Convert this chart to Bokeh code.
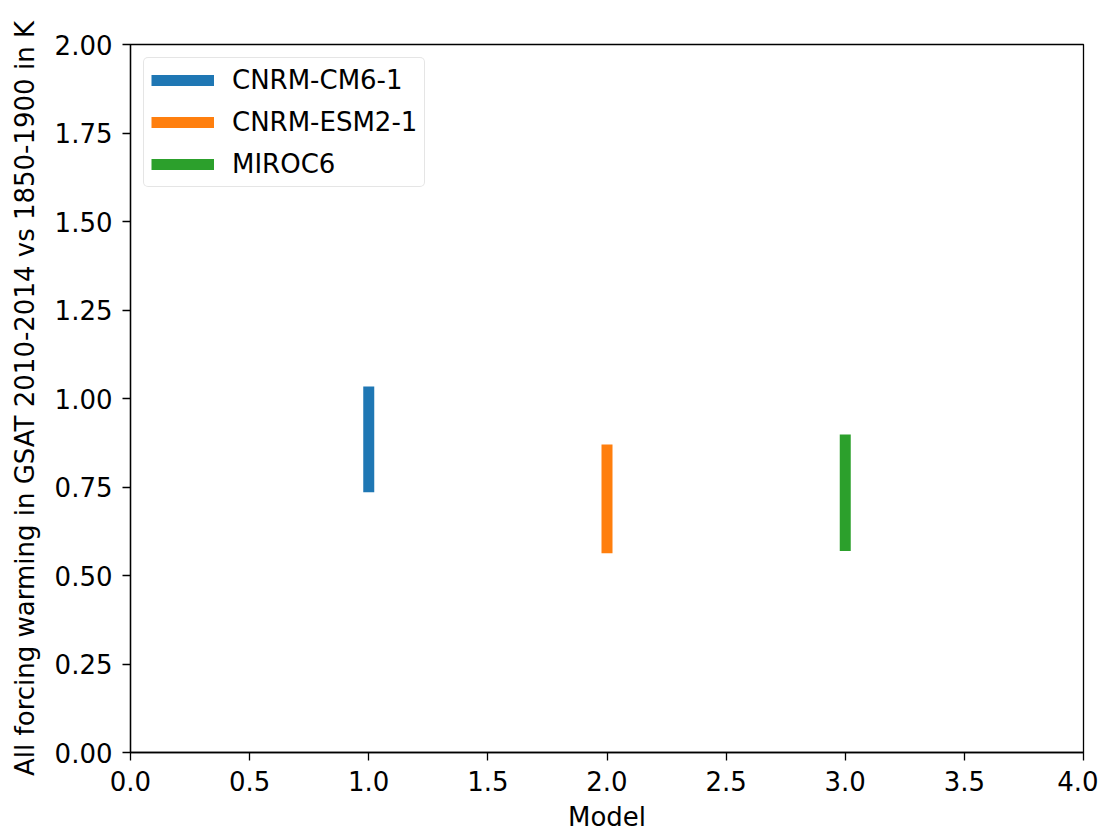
from bokeh.plotting import figure
from bokeh.models import FixedTicker, NumeralTickFormatter, Range1d, Legend, LegendItem
from bokeh.embed import file_html
from bokeh.resources import INLINE

models = ["CNRM-CM6-1", "CNRM-ESM2-1", "MIROC6"]
x_pos = [1, 2, 3]
low = [0.735, 0.563, 0.569]
high = [1.034, 0.870, 0.898]
colors = ["#1f77b4", "#ff7f0e", "#2ca02c"]

x_ticks = [0.0, 0.5, 1.0, 1.5, 2.0, 2.5, 3.0, 3.5, 4.0]
y_ticks = [0.0, 0.25, 0.5, 0.75, 1.0, 1.25, 1.5, 1.75, 2.0]

FONT = "DejaVu Sans"
FS = "26px"

p = figure(frame_width=953, frame_height=708,
           min_border_left=130, min_border_right=15, min_border_top=44, min_border_bottom=80,
           output_backend="svg", toolbar_location=None,
           x_range=Range1d(0, 4), y_range=Range1d(0, 2))

items = []
for m, x, lo, hi, c in zip(models, x_pos, low, high, colors):
    r = p.segment(x0=[x], y0=[lo], x1=[x], y1=[hi], line_color=c, line_width=11, line_cap="butt")
    items.append(LegendItem(label=m, renderers=[r]))

legend = Legend(items=items, location="top_left")
legend.label_text_font = FONT
legend.label_text_font_size = FS
legend.label_text_color = "#000000"
legend.glyph_width = 63
legend.glyph_height = 28
legend.label_height = 28
legend.label_standoff = 18
legend.spacing = 12
legend.padding = 7
legend.margin = 13
legend.border_line_color = "#cccccc"
legend.border_line_width = 1.5
legend.border_radius = 5
legend.background_fill_alpha = 0.8
p.add_layout(legend)

p.xgrid.visible = False
p.ygrid.visible = False
p.outline_line_color = "black"
p.outline_line_width = 1.3
p.background_fill_color = "white"
p.border_fill_color = "white"

p.xaxis.ticker = FixedTicker(ticks=x_ticks)
p.yaxis.ticker = FixedTicker(ticks=y_ticks)
p.xaxis.formatter = NumeralTickFormatter(format="0.0")
p.yaxis.formatter = NumeralTickFormatter(format="0.00")
p.xaxis.axis_label = "Model"
p.yaxis.axis_label = "All forcing warming in GSAT 2010-2014 vs 1850-1900 in K"

for ax in (p.xaxis[0], p.yaxis[0]):
    ax.major_label_text_font = FONT
    ax.major_label_text_font_size = FS
    ax.major_label_text_color = "#000000"
    ax.axis_label_text_font = FONT
    ax.axis_label_text_font_size = FS
    ax.axis_label_text_font_style = "normal"
    ax.axis_label_text_color = "#000000"
    ax.major_tick_out = 8
    ax.major_tick_in = 0
    ax.minor_tick_out = 0
    ax.minor_tick_in = 0
    ax.major_tick_line_width = 1.3
    ax.axis_line_width = 1.3
    ax.major_label_standoff = 10
    ax.axis_label_standoff = 12

p.xaxis[0].axis_label_standoff = 8

open("out.html", "w").write(file_html(p, INLINE))
